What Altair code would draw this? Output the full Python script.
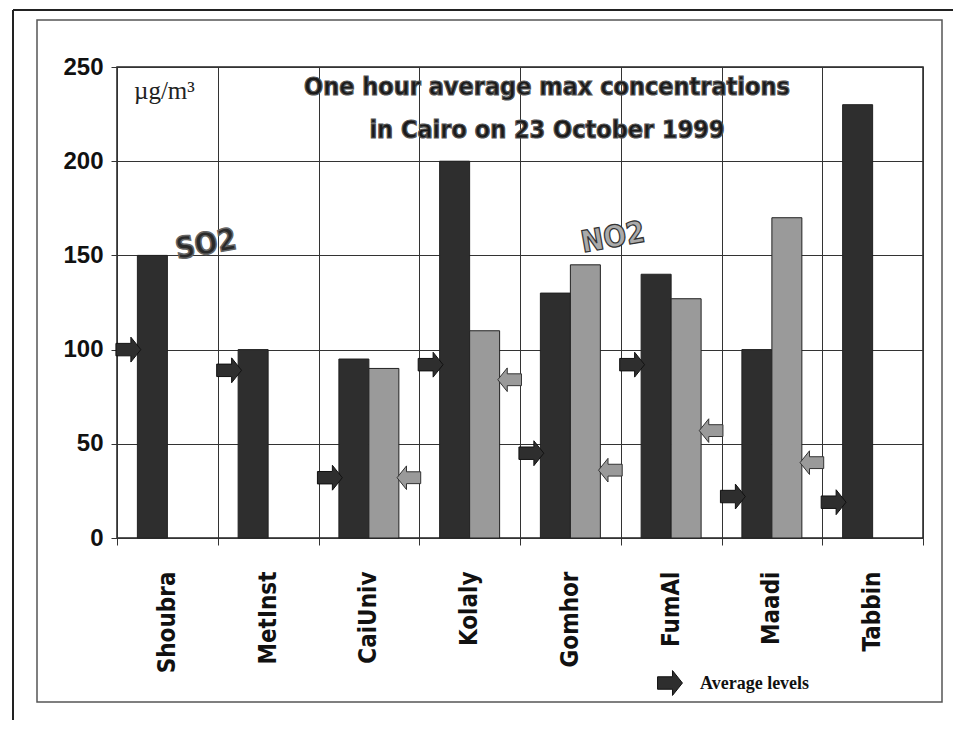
import altair as alt
import pandas as pd

stations = ["Shoubra", "MetInst", "CaiUniv", "Kolaly", "Gomhor", "FumAl", "Maadi", "Tabbin"]
so2_max = [150, 100, 95, 200, 130, 140, 100, 230]
no2_max = [None, None, 90, 110, 145, 127, 170, None]
so2_avg = [100, 89, 32, 92, 45, 92, 22, 19]
no2_avg = [None, None, 32, 84, 36, 57, 40, None]
y_ticks = [0, 50, 100, 150, 200, 250]

title_lines = ["One hour average max concentrations", "in Cairo on 23 October 1999"]
unit_label = "µg/m³"
legend_label = "Average levels"

W, H = 806, 471
NARROW = "Liberation Sans Narrow, Arial Narrow, DejaVu Sans Condensed, sans-serif"
SANS = "Liberation Sans, Arial, sans-serif"
SERIF = "Liberation Serif, Times New Roman, serif"
DARK = "#2e2e2e"
GRAY = "#9a9a9a"

rows = []
for s, a, b in zip(stations, so2_max, no2_max):
    rows.append({"station": s, "pollutant": "SO2", "value": a})
    if b is not None:
        rows.append({"station": s, "pollutant": "NO2", "value": b})
bars_df = pd.DataFrame(rows)

so2_avg_df = pd.DataFrame({"station": stations, "avg": so2_avg})
no2_avg_df = pd.DataFrame(
    [{"station": s, "avg": v} for s, v in zip(stations, no2_avg) if v is not None]
)

x_enc = alt.X(
    "station:N",
    sort=stations,
    scale=alt.Scale(paddingInner=0, paddingOuter=0),
    axis=alt.Axis(
        title=None,
        labelAngle=270,
        labelFont=NARROW,
        labelFontWeight="bold",
        labelFontSize=24,
        labelColor="#111",
        labelPadding=26,
        tickBand="extent",
        tickSize=7,
        tickColor="#333",
        grid=True,
        gridColor="#333",
        gridWidth=1,
        domain=False,
    ),
)
y_scale = alt.Scale(domain=[0, 250], nice=False)
y_axis = alt.Axis(
    title=None,
    values=y_ticks,
    labelFont=SANS,
    labelFontWeight="bold",
    labelFontSize=24,
    labelColor="#111",
    labelPadding=8,
    tickSize=6,
    tickColor="#333",
    grid=True,
    gridColor="#333",
    gridWidth=1,
    domain=False,
)

bars = alt.Chart(bars_df).mark_bar(stroke="#222", strokeWidth=1).encode(
    x=x_enc,
    xOffset=alt.XOffset(
        "pollutant:N",
        sort=["SO2", "NO2"],
        scale=alt.Scale(domain=["SO2", "NO2"], paddingInner=0, paddingOuter=0.68),
    ),
    y=alt.Y("value:Q", scale=y_scale, axis=y_axis),
    color=alt.Color(
        "pollutant:N",
        scale=alt.Scale(domain=["SO2", "NO2"], range=[DARK, GRAY]),
        legend=None,
    ),
)

RIGHT_ARROW = "M-1,-0.5L0.2,-0.5L0.2,-1L1,0L0.2,1L0.2,0.5L-1,0.5Z"
LEFT_ARROW = "M1,-0.5L-0.2,-0.5L-0.2,-1L-1,0L-0.2,1L-0.2,0.5L1,0.5Z"

so2_arrows = alt.Chart(so2_avg_df).mark_point(
    shape=RIGHT_ARROW, filled=True, size=620, opacity=1, color=DARK,
    stroke="#111", strokeWidth=1, xOffset=-39,
).encode(
    x=alt.X("station:N", sort=stations),
    y=alt.Y("avg:Q", scale=y_scale),
)
no2_arrows = alt.Chart(no2_avg_df).mark_point(
    shape=LEFT_ARROW, filled=True, size=560, opacity=1, color=GRAY,
    stroke="#333", strokeWidth=1, xOffset=40,
).encode(
    x=alt.X("station:N", sort=stations),
    y=alt.Y("avg:Q", scale=y_scale),
)

one = pd.DataFrame({"k": [0]})


def label(text, x, y, **kw):
    return alt.Chart(one).mark_text(text=text, **kw).encode(
        x=alt.value(x), y=alt.value(y)
    )


title_layers = []
for i, line in enumerate(title_lines):
    yy = 20 + i * 43
    title_layers.append(label(line, 430, yy, font=NARROW, fontWeight="bold",
                              fontSize=25, color="#1a1a1a", stroke="#555",
                              strokeWidth=1.2, align="center", baseline="middle"))

unit = label(unit_label, 17, 24, font=SERIF, fontSize=25, color="#222",
             align="left", baseline="middle")

so2_deco = label("SO2", 89, 178, font=NARROW, fontWeight="bold", fontSize=30,
                 color="#2a2a2a", stroke="#666", strokeWidth=1.5,
                 align="center", baseline="middle", angle=350)
no2_deco = label("NO2", 496, 171, font=NARROW, fontWeight="bold", fontSize=30,
                 color="#aaa", stroke="#333", strokeWidth=1.2,
                 align="center", baseline="middle", angle=350)

legend_arrow = alt.Chart(one).mark_point(
    shape=RIGHT_ARROW, filled=True, size=620, opacity=1, color=DARK,
    stroke="#111", strokeWidth=1,
).encode(x=alt.value(553), y=alt.value(616))
legend_text = label(legend_label, 583, 617, font=SERIF, fontWeight="bold", fontSize=18,
                    color="#111", align="left", baseline="middle")

inner_frame = alt.Chart(one).mark_rect(
    fill=None, fillOpacity=0, stroke="#555", strokeWidth=1.5
).encode(x=alt.value(-80), x2=alt.value(825), y=alt.value(-47), y2=alt.value(635))
outer_top = alt.Chart(one).mark_rule(color="#222", strokeWidth=2).encode(
    x=alt.value(-104), x2=alt.value(838), y=alt.value(-57)
)
outer_left = alt.Chart(one).mark_rule(color="#222", strokeWidth=2).encode(
    x=alt.value(-104), y=alt.value(-57), y2=alt.value(670)
)

chart = alt.layer(
    inner_frame, outer_top, outer_left,
    bars, so2_arrows, no2_arrows,
    *title_layers, unit, so2_deco, no2_deco,
    legend_arrow, legend_text,
).properties(
    width=W, height=H,
    autosize=alt.AutoSizeParams(type="none"),
    padding={"left": 109, "top": 59, "right": 30, "bottom": 182},
    background="white",
).configure_view(stroke="#222", strokeWidth=1.5)

chart.save("out.html", embed_options={"renderer": "svg", "actions": False})
